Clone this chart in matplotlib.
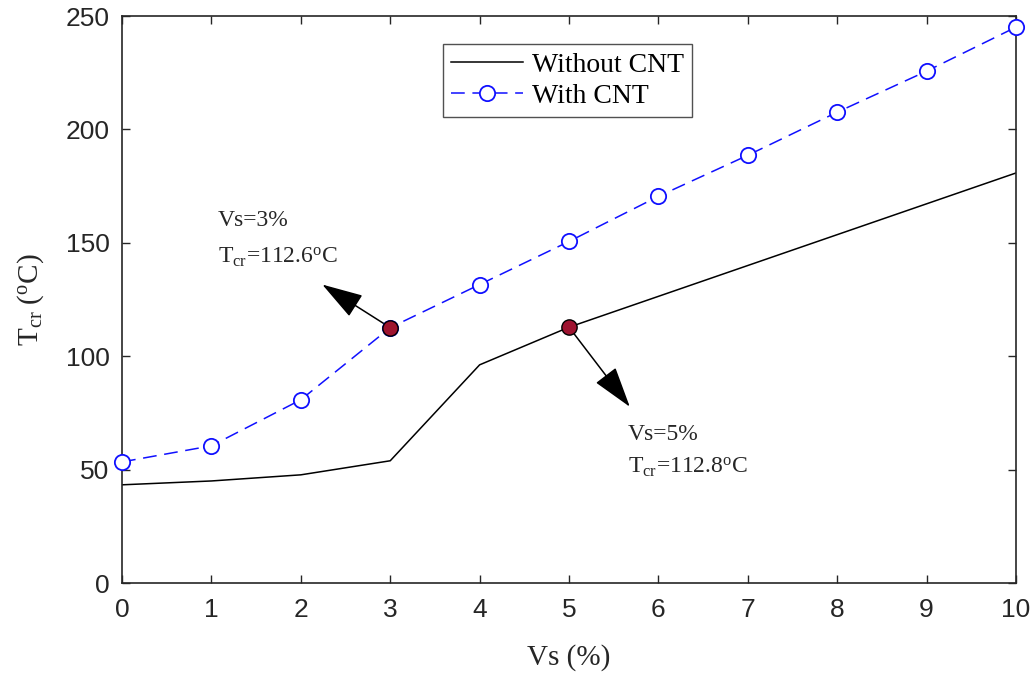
import matplotlib
matplotlib.use("Agg")
import matplotlib.pyplot as plt
from matplotlib import font_manager

vs = [0, 1, 2, 3, 4, 5, 6, 7, 8, 9, 10]
t_without = [43.3, 45.0, 47.7, 53.9, 96.2, 112.8, 126.4, 140.0, 153.6, 167.2, 180.8]
t_with = [53.4, 60.5, 80.8, 112.6, 131.6, 150.6, 170.5, 188.6, 207.6, 225.7, 245.1]
hl_x = [3, 5]
hl_y = [112.6, 112.8]
xticks = list(range(0, 11))
yticks = [0, 50, 100, 150, 200, 250]

names = {f.name for f in font_manager.fontManager.ttflist}
tickfont = 'Liberation Sans Narrow' if 'Liberation Sans Narrow' in names else 'Liberation Sans'
serif = 'Liberation Serif'

plt.rcParams['mathtext.fontset'] = 'custom'
plt.rcParams['mathtext.rm'] = serif
plt.rcParams['mathtext.it'] = serif + ':italic'

fig = plt.figure(figsize=(10.36, 6.73), dpi=100)
ax = fig.add_axes([0.1178, 0.1337, 0.8629, 0.8425])

ax.plot(vs, t_without, color='black', lw=1.1, label='Without CNT')
ax.plot(vs, t_with, color='#1010ff', lw=1.1, ls=(0, (9, 5)), marker='o', ms=11,
        mfc='white', mec='#1010ff', mew=1.3, label='With CNT', clip_on=False, zorder=4)
ax.plot(hl_x, hl_y, 'o', ms=11, mfc='#9e1330', mec='black', mew=1.0, zorder=5)

ax.set_xlim(0, 10)
ax.set_ylim(0, 250)
ax.set_xticks(xticks)
ax.set_yticks(yticks)
ax.tick_params(direction='in', length=6, width=1, top=True, right=True,
               labelsize=19, colors='#262626')
ax.tick_params(axis='x', pad=11)
ax.tick_params(axis='y', pad=9)
for lab in ax.get_xticklabels() + ax.get_yticklabels():
    lab.set_family(tickfont)
for s in ax.spines.values():
    s.set_color('#262626')
    s.set_linewidth(1.2)

ax.set_xlabel('Vs (%)', family=serif, fontsize=21, color='#262626', labelpad=16)
ax.set_ylabel(r'T$_{\rm cr}$ ($^{\rm o}$C)', family=serif, fontsize=21, color='#262626', labelpad=14)

aprops = dict(arrowstyle='-|>,head_length=1.3,head_width=0.4', color='black', lw=1.1,
              shrinkA=0, shrinkB=0, mutation_scale=20)
ax.annotate('', xy=(2.24, 131.6), xytext=(3, 112.6), arrowprops=aprops)
ax.annotate('', xy=(5.68, 77.7), xytext=(5, 112.8), arrowprops=aprops)

ax.text(1.07, 160.0, 'Vs=3%', family=serif, fontsize=17, va='center', color='#262626')
ax.text(1.07, 143.5, r'T$_{\rm cr}$=112.6$^{\rm o}$C', family=serif, fontsize=17, va='center', color='#262626')
ax.text(5.66, 65.5, 'Vs=5%', family=serif, fontsize=17, va='center', color='#262626')
ax.text(5.66, 50.8, r'T$_{\rm cr}$=112.8$^{\rm o}$C', family=serif, fontsize=17, va='center', color='#262626')

leg = ax.legend(loc='upper center', bbox_to_anchor=(0.498, 0.951), prop={'family': serif, 'size': 20},
                frameon=True, fancybox=False, edgecolor='#262626', handlelength=2.6,
                borderpad=0.3, labelspacing=0.2, handletextpad=0.3, borderaxespad=0)
leg.get_frame().set_linewidth(1.0)

fig.savefig('out.png', dpi=100)
